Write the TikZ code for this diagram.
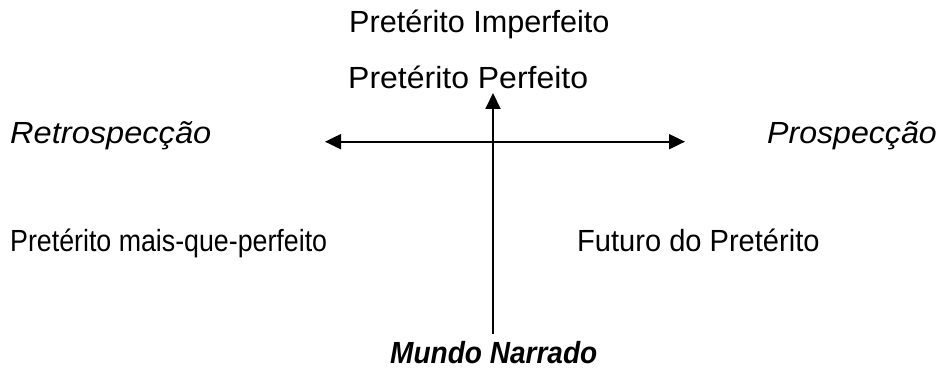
\documentclass[tikz,border=0pt]{standalone}
\usepackage{fontspec}
\setmainfont{Liberation Sans}
\usetikzlibrary{arrows.meta}
\begin{document}
\begin{tikzpicture}[x=1pt,y=1pt,
  lbl/.style={inner sep=0pt, anchor=base west, font=\fontsize{30.6}{36}\selectfont},
  ital/.style={lbl, font=\fontsize{30.6}{36}\selectfont\itshape},
  axis/.style={line width=2pt, {Triangle[length=16pt,width=15pt]}-{Triangle[length=16pt,width=15pt]}},
  vaxis/.style={line width=2pt, -{Triangle[length=16pt,width=15pt]}}]
\useasboundingbox (0,0) rectangle (940,369);
\node[lbl] (imp) at (349,336) {Pretérito Imperfeito};
\node[lbl, xscale=1.045, transform shape] (perf) at (348,280) {Pretérito Perfeito};
\node[ital, xscale=1.065, transform shape] (retro) at (10,225) {Retrospecção};
\node[ital, anchor=base east, xscale=1.05, transform shape] (prosp) at (937,225) {Prospecção};
\node[lbl, xscale=0.875, transform shape] (mqp) at (10,117) {Pretérito mais-que-perfeito};
\node[lbl, xscale=0.95, transform shape] (fut) at (577,117) {Futuro do Pretérito};
\node[lbl, font=\fontsize{30.6}{36}\selectfont\bfseries\itshape, xscale=0.916, transform shape] (mundo) at (390,5) {Mundo Narrado};
\coordinate (hl) at (325,227.3);
\coordinate (hr) at (685,227.3);
\coordinate (vb) at (493,35);
\coordinate (vt) at (493,276);
\draw[axis] (hl) -- (hr);
\draw[vaxis] (vb) -- (vt);
\end{tikzpicture}
\end{document}
